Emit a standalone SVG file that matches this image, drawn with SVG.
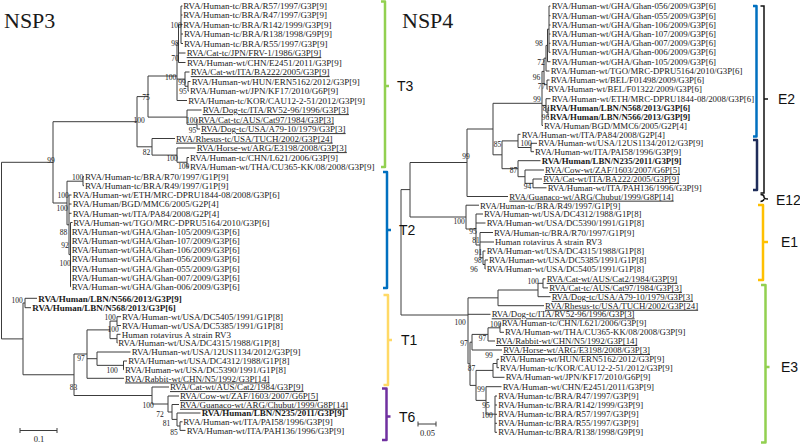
<svg xmlns="http://www.w3.org/2000/svg" width="800" height="444" viewBox="0 0 800 444">
<style>
text{font-family:"Liberation Serif","Times New Roman",serif;fill:#1a1a1a}
.l{font-size:9px}
.r{font-size:8.8px}
.b{font-weight:bold}
.u{text-decoration:underline}
.bs{font-size:7.5px;text-anchor:middle}
.tree{stroke:#3c3c3c;stroke-width:1;fill:none}
.title{font-size:22px}
.cl{font-family:"Liberation Sans","Open Sans",sans-serif;font-size:14px;fill:#111}
.br{fill:none;stroke-width:2.5;stroke-linejoin:round}
</style>
<rect width="800" height="444" fill="#fff"/>
<text class="title" x="4" y="28">NSP3</text>
<text class="title" x="402" y="28">NSP4</text>

<g id="connectors">
<path class="tree" d="M1.5 162.3V338.9M1.5 162.3H53M1.5 338.9H23
M53 121.7V203M53 121.7H137M53 203H67
M137 96.6V146.8M137 96.6H148M137 146.8H152
M148 76V117.1M148 76H177M148 117.1H187
M177 43.6V100.5M177 43.6H178.5M177 79.1H185M177 100.5H187
M178.5 24.75V62.5M178.5 24.75H181M178.5 53H185.5M178.5 62.5H185.5
M181 6V43.5M181 6H182.5M181 15H182.5M181 24.5H182.5M181 34H183M181 43.5H183
M185 72V86.25M185 72H189.5M185 86.25H188
M188 81.5V91M188 81.5H190.5M188 91H189
M187 110V124.25M187 110H201.5M187 124.25H197
M197 119.5V129M197 119.5H197.5M197 129H200
M152 138.5V155.1M152 138.5H175M152 155.1H177
M177 148V162.25M177 148H195.5M177 162.25H187
M187 157.5V167M187 157.5H189M187 167H189
M67 181.2V224.8M67 181.2H83M67 224.8H69
M83 176.7V185.7M83 176.7H84M83 185.7H84
M69 195V254.6M69 195H71.5M69 204H71.5M69 213.3H71.5M69 254.6H70.5
M70.5 222.5V286.7M70.5 222.5H72.5M70.5 231.7H71M70.5 241H71M70.5 250H71M70.5 259H71M70.5 268.3H71M70.5 277.3H71M70.5 286.7H71
M23 303V374.75M23 303H25M23 374.75H74
M25 298.3V307.7M25 298.3H37M25 307.7H31
M74 354V395.5M74 354H87M74 395.5H152
M87 329.9V378.3M87 329.9H110M87 358.7H97M87 378.3H124
M110 321.1V338.65M110 321.1H117M110 338.65H117
M117 316.7V325.5M117 316.7H121M117 325.5H121
M117 334.3V343M117 334.3H120.5M117 343H117.5
M97 352V365.35M97 352H130.5M97 365.35H123.5
M123.5 361V369.7M123.5 361H127M123.5 369.7H124
M152 387V404M152 387H169M152 404H168
M168 396V412M168 396H179M168 412H172
M172 404.5V419.4M172 404.5H179M172 419.4H177
M177 413V426M177 413H200.5M177 426H180
M180 421.8V430.4M180 421.8H182.5M180 430.4H185.5"/>
<path class="tree" d="M20 430.5H57M20 428V433M57 428V433"/>
<path class="tree" d="M401 189.6V315M401 189.6H410M401 315H468
M410 162.5V217M410 162.5H467M410 217H466
M467 129V196.5M467 129H493M467 196.5H508
M493 103.3V154.8M493 103.3H542M493 154.8H502
M542 71.4V125.5M542 71.4H544M542 105.45H546M542 125.5H543
M544 58.2V84.65M544 58.2H546M544 84.65H547
M546 45.4V71M546 45.4H547.5M546 71H549.5
M547.5 29.15V61.7M547.5 29.15H549M547.5 61.7H550.5
M549 6V52.3M549 6H550.5M549 15.7H550.5M549 25H550.5M549 34H550.5M549 43.3H550.5M549 52.3H550.5
M547 80V89.3M547 80H549.5M547 89.3H547.5
M546 98.7V112.2M546 98.7H550.5M546 112.2H548
M548 107.7V116.5M548 107.7H549M548 116.5H549
M502 140.9V168.7M502 140.9H518M502 168.7H518
M518 134.3V147.5M518 134.3H520.5M518 147.5H531
M531 143.3V151.7M531 143.3H537M531 151.7H534
M518 160.7V176.7M518 160.7H540.5M518 176.7H525
M525 170V183.35M525 170H544M525 183.35H533
M533 179V187.8M533 179H542M533 187.8H546.5
M466 205.2V229M466 205.2H479M466 229H476
M476 214V245M476 214H483M476 223H485.5M476 245H480
M480 232.5V257.75M480 232.5H493M480 242H494M480 257.75H483
M483 251V264.5M483 251H485.5M483 264.5H485
M485 260V269M485 260H488M485 269H485.5
M468 297.85V363.8M468 297.85H498M468 314.3H490.5M468 363.8H470
M498 290V305.7M498 290H538M498 305.7H544
M538 283.3V296.7M538 283.3H543M538 296.7H550.5
M543 278.8V287.9M543 278.8H545.5M543 287.9H548
M470 342.2V385.4M470 342.2H472M470 385.4H476
M472 334.4V350M472 334.4H488M472 350H502
M488 327.8V341M488 327.8H500M488 341H495
M500 323.3V332.3M500 323.3H500.5M500 332.3H504
M476 370.4V400.4M476 370.4H493M476 400.4H486
M493 363.5V377.3M493 363.5H497M493 377.3H504.5
M497 359.3V367.7M497 359.3H499M497 367.7H499
M486 386.7V414.15M486 386.7H501.5M486 414.15H495
M495 396V432.3M495 396H497M495 405H497M495 414.3H497M495 423.3H497M495 432.3H497"/>
<path class="tree" d="M418 424H436M418 421.5V426.5M436 421.5V426.5"/>
</g>

<g id="nsp3-leaves" class="l">
<text x="183.3" y="9.2">RVA/Human-tc/BRA/R57/1997/G3P[9]</text>
<text x="183.3" y="18.2">RVA/Human-tc/BRA/R47/1997/G3P[9]</text>
<text x="183.3" y="27.7">RVA/Human-tc/BRA/R142/1999/G3P[9]</text>
<text x="184" y="37.2">RVA/Human-tc/BRA/R138/1998/G9P[9]</text>
<text x="184" y="46.7">RVA/Human-tc/BRA/R55/1997/G3P[9]</text>
<text class="u" x="186.7" y="56.2">RVA/Cat-tc/JPN/FRV-1/1986/G3P[9]</text>
<text x="187" y="65.7">RVA/Human-wt/CHN/E2451/2011/G3P[9]</text>
<text class="u" x="190.7" y="75.2">RVA/Cat-wt/ITA/BA222/2005/G3P[9]</text>
<text x="191.7" y="84.7">RVA/Human-wt/HUN/ERN5162/2012/G3P[9]</text>
<text x="190" y="94.2">RVA/Human-wt/JPN/KF17/2010/G6P[9]</text>
<text x="188.3" y="103.7">RVA/Human-tc/KOR/CAU12-2-51/2012/G3P[9]</text>
<text class="u" x="202.7" y="113.2">RVA/Dog-tc/ITA/RV52-96/1996/G3P[3]</text>
<text class="u" x="198.3" y="122.7">RVA/Cat-tc/AUS/Cat97/1984/G3P[3]</text>
<text class="u" x="201" y="132.2">RVA/Dog-tc/USA/A79-10/1979/G3P[3]</text>
<text class="u" x="176" y="141.7">RVA/Rhesus-tc/USA/TUCH/2002/G3P[24]</text>
<text class="u" x="196.7" y="151.2">RVA/Horse-wt/ARG/E3198/2008/G3P[3]</text>
<text x="190" y="160.7">RVA/Human-tc/CHN/L621/2006/G3P[9]</text>
<text x="190" y="170.2">RVA/Human-wt/THA/CU365-KK/08/2008/G3P[9]</text>
<text x="85" y="179.9">RVA/Human-tc/BRA/R70/1997/G1P[9]</text>
<text x="85" y="188.9">RVA/Human-tc/BRA/R49/1997/G1P[9]</text>
<text x="72.7" y="198.2">RVA/Human-wt/ETH/MRC-DPRU1844-08/2008/G3P[6]</text>
<text x="72.7" y="207.2">RVA/Human/BGD/MMC6/2005/G2P[4]</text>
<text x="72.7" y="216.5">RVA/Human-wt/ITA/PA84/2008/G2P[4]</text>
<text x="73.3" y="225.7">RVA/Human-wt/TGO/MRC-DPRU5164/2010/G3P[6]</text>
<text x="71.7" y="234.9">RVA/Human-wt/GHA/Ghan-105/2009/G3P[6]</text>
<text x="71.7" y="244.2">RVA/Human-wt/GHA/Ghan-107/2009/G3P[6]</text>
<text x="71.7" y="253.2">RVA/Human-wt/GHA/Ghan-106/2009/G3P[6]</text>
<text x="71.7" y="262.2">RVA/Human-wt/GHA/Ghan-056/2009/G3P[6]</text>
<text x="71.7" y="271.5">RVA/Human-wt/GHA/Ghan-055/2009/G3P[6]</text>
<text x="71.7" y="280.5">RVA/Human-wt/GHA/Ghan-007/2009/G3P[6]</text>
<text x="71.7" y="289.9">RVA/Human-wt/GHA/Ghan-006/2009/G3P[6]</text>
<text class="b" x="38.3" y="301.5">RVA/Human/LBN/N566/2013/G3P[9]</text>
<text class="b" x="32.3" y="310.9">RVA/Human/LBN/N568/2013/G3P[6]</text>
<text x="122" y="319.9">RVA/Human-wt/USA/DC5405/1991/G1P[8]</text>
<text x="122" y="328.7">RVA/Human-wt/USA/DC5385/1991/G1P[8]</text>
<text x="121.7" y="337.5">Human rotavirus A strain RV3</text>
<text x="118.3" y="346.2">RVA/Human-wt/USA/DC4315/1988/G1P[8]</text>
<text x="131.7" y="355.2">RVA/Human-wt/USA/12US1134/2012/G3P[9]</text>
<text x="128.3" y="364.2">RVA/Human-wt/USA/DC4312/1988/G1P[8]</text>
<text x="125" y="372.9">RVA/Human-wt/USA/DC5390/1991/G1P[8]</text>
<text class="u" x="125" y="381.5">RVA/Rabbit-wt/CHN/N5/1992/G3P[14]</text>
<text class="u" x="170" y="390.2">RVA/Cat-wt/AUS/Cat2/1984/G3P[9]</text>
<text class="u" x="180" y="399.2">RVA/Cow-wt/ZAF/1603/2007/G6P[5]</text>
<text class="u" x="180" y="407.8">RVA/Guanaco-wt/ARG/Chubut/1999/G8P[14]</text>
<text class="b" x="201.7" y="416.4">RVA/Human/LBN/N235/2011/G3P[9]</text>
<text x="183.3" y="425">RVA/Human-wt/ITA/PAI58/1996/G3P[9]</text>
<text x="186.7" y="433.6">RVA/Human-wt/ITA/PAH136/1996/G3P[9]</text>
</g>

<g id="nsp3-bootstrap" class="bs">
<text x="176" y="27.6">100</text>
<text x="175" y="45.6">98</text>
<text x="175" y="60.6">70</text>
<text x="170.5" y="80">100</text>
<text x="182" y="85">99</text>
<text x="183" y="93.6">95</text>
<text x="146" y="99.6">75</text>
<text x="139" y="122.6">100</text>
<text x="191.5" y="122.6">100</text>
<text x="192.5" y="132.6">95</text>
<text x="146.5" y="154.6">82</text>
<text x="172" y="160.6">100</text>
<text x="183.5" y="168.8">100</text>
<text x="51" y="162.6">99</text>
<text x="77.5" y="179.6">100</text>
<text x="63" y="197.6">100</text>
<text x="62" y="210.6">100</text>
<text x="63.5" y="234.6">88</text>
<text x="65" y="247.6">92</text>
<text x="65" y="265.6">100</text>
<text x="17" y="302.6">100</text>
<text x="110" y="319.6">100</text>
<text x="113" y="331.6">100</text>
<text x="112" y="372.6">100</text>
<text x="81" y="360.6">97</text>
<text x="73.5" y="389.6">83</text>
<text x="148" y="407.6">100</text>
<text x="160" y="416.6">72</text>
<text x="166.5" y="425.6">81</text>
<text x="174" y="434.8">85</text>
<text x="39" y="442" style="font-size:8.5px">0.1</text>
</g>

<g id="nsp4-leaves" class="r">
<text x="551.7" y="9.1">RVA/Human-wt/GHA/Ghan-056/2009/G3P[6]</text>
<text x="551.7" y="18.8">RVA/Human-wt/GHA/Ghan-055/2009/G3P[6]</text>
<text x="551.7" y="28.1">RVA/Human-wt/GHA/Ghan-106/2009/G3P[6]</text>
<text x="551.7" y="37.1">RVA/Human-wt/GHA/Ghan-107/2009/G3P[6]</text>
<text x="551.7" y="46.4">RVA/Human-wt/GHA/Ghan-007/2009/G3P[6]</text>
<text x="551.7" y="55.4">RVA/Human-wt/GHA/Ghan-006/2009/G3P[6]</text>
<text x="551.7" y="64.8">RVA/Human-wt/GHA/Ghan-105/2009/G3P[6]</text>
<text x="550.7" y="74.1">RVA/Human-wt/TGO/MRC-DPRU5164/2010/G3P[6]</text>
<text x="550.7" y="83.1">RVA/Human-wt/BEL/F01498/2009/G3P[6]</text>
<text x="548.3" y="92.4">RVA/Human-wt/BEL/F01322/2009/G3P[6]</text>
<text x="551.7" y="101.8">RVA/Human-wt/ETH/MRC-DPRU1844-08/2008/G3P[6]</text>
<text class="b" x="550" y="110.8">RVA/Human/LBN/N568/2013/G3P[6]</text>
<text class="b" x="550" y="119.6">RVA/Human/LBN/N566/2013/G3P[9]</text>
<text x="544" y="128.7">RVA/Human/BGD/MMC6/2005/G2P[4]</text>
<text x="521.7" y="137.6">RVA/Human-wt/ITA/PA84/2008/G2P[4]</text>
<text x="538.3" y="146.4">RVA/Human-wt/USA/12US1134/2012/G3P[9]</text>
<text x="535" y="155.1">RVA/Human-wt/ITA/PAI58/1996/G3P[9]</text>
<text class="b" x="541.7" y="163.9">RVA/Human/LBN/N235/2011/G3P[9]</text>
<text class="u" x="545" y="173.1">RVA/Cow-wt/ZAF/1603/2007/G6P[5]</text>
<text class="u" x="543.3" y="182">RVA/Cat-wt/ITA/BA222/2005/G3P[9]</text>
<text x="547.7" y="190.9">RVA/Human-wt/ITA/PAH136/1996/G3P[9]</text>
<text class="u" x="509.3" y="199.7">RVA/Guanaco-wt/ARG/Chubut/1999/G8P[14]</text>
<text x="480" y="208.5">RVA/Human-tc/BRA/R49/1997/G1P[9]</text>
<text x="484" y="217.3">RVA/Human-wt/USA/DC4312/1988/G1P[8]</text>
<text x="486.7" y="226.2">RVA/Human-wt/USA/DC5390/1991/G1P[8]</text>
<text x="494" y="235.6">RVA/Human-tc/BRA/R70/1997/G1P[9]</text>
<text x="495" y="245.1">Human rotavirus A strain RV3</text>
<text x="486.7" y="254.1">RVA/Human-wt/USA/DC4315/1988/G1P[8]</text>
<text x="489" y="263.1">RVA/Human-wt/USA/DC5385/1991/G1P[8]</text>
<text x="486.7" y="272.1">RVA/Human-wt/USA/DC5405/1991/G1P[8]</text>
<text class="u" x="546.7" y="281.9">RVA/Cat-wt/AUS/Cat2/1984/G3P[9]</text>
<text class="u" x="549.3" y="291">RVA/Cat-tc/AUS/Cat97/1984/G3P[3]</text>
<text class="u" x="551.7" y="299.9">RVA/Dog-tc/USA/A79-10/1979/G3P[3]</text>
<text class="u" x="545" y="308.8">RVA/Rhesus-tc/USA/TUCH/2002/G3P[24]</text>
<text class="u" x="491.7" y="317.4">RVA/Dog-tc/ITA/RV52-96/1996/G3P[3]</text>
<text x="501.7" y="326.4">RVA/Human-tc/CHN/L621/2006/G3P[9]</text>
<text x="505" y="335.4">RVA/Human-wt/THA/CU365-KK/08/2008/G3P[9]</text>
<text class="u" x="496" y="344.1">RVA/Rabbit-wt/CHN/N5/1992/G3P[14]</text>
<text class="u" x="503.3" y="353.1">RVA/Horse-wt/ARG/E3198/2008/G3P[3]</text>
<text x="500" y="362.4">RVA/Human-wt/HUN/ERN5162/2012/G3P[9]</text>
<text x="500" y="371.2">RVA/Human-tc/KOR/CAU12-2-51/2012/G3P[9]</text>
<text x="505.7" y="380.4">RVA/Human-wt/JPN/KF17/2010/G6P[9]</text>
<text x="502.7" y="389.8">RVA/Human-wt/CHN/E2451/2011/G3P[9]</text>
<text x="498.3" y="399.1">RVA/Human-tc/BRA/R47/1997/G3P[9]</text>
<text x="498.3" y="408.1">RVA/Human-tc/BRA/R142/1999/G3P[9]</text>
<text x="498.3" y="417.4">RVA/Human-tc/BRA/R57/1997/G3P[9]</text>
<text x="498.3" y="426.4">RVA/Human-tc/BRA/R55/1997/G3P[9]</text>
<text x="498.3" y="435.4">RVA/Human-tc/BRA/R138/1998/G9P[9]</text>
</g>

<g id="nsp4-bootstrap" class="bs">
<text x="539" y="45.6">98</text>
<text x="541" y="64.6">72</text>
<text x="536.5" y="79.6">96</text>
<text x="541.5" y="88.8">77</text>
<text x="537" y="101.8">99</text>
<text x="546.5" y="110.6">81</text>
<text x="545.5" y="119.6">96</text>
<text x="526" y="146">100</text>
<text x="497.5" y="146.6">85</text>
<text x="513.5" y="172.6">87</text>
<text x="527.5" y="188.6">94</text>
<text x="466" y="159.3">99</text>
<text x="459" y="224">100</text>
<text x="473" y="233.6">95</text>
<text x="476" y="242.6">81</text>
<text x="478.5" y="254.6">91</text>
<text x="478" y="262.6">98</text>
<text x="474" y="271.6">96</text>
<text x="533" y="283.6">100</text>
<text x="495.5" y="326.6">100</text>
<text x="460" y="324.6">100</text>
<text x="464" y="345.6">97</text>
<text x="482.5" y="340.6">97</text>
<text x="471.5" y="370.6">87</text>
<text x="489" y="357.6">99</text>
<text x="481" y="391.6">99</text>
<text x="486" y="408.3">95</text>
<text x="487" y="417.6">100</text>
<text x="427.5" y="436" style="font-size:8.5px">0.05</text>
</g>

<g id="clade-T3"><path class="br" stroke="#92d050" d="M381 1.5H385V167H381M385 86H389"/><text class="cl" x="397" y="91">T3</text></g>
<g id="clade-T2"><path class="br" stroke="#0070c0" d="M383 172H387V288H383M387 230H391"/><text class="cl" x="399" y="235">T2</text></g>
<g id="clade-T1"><path class="br" stroke="#ffd966" d="M383.5 295H388V385H383.5M388 340H392"/><text class="cl" x="401" y="345">T1</text></g>
<g id="clade-T6"><path class="br" stroke="#7030a0" d="M382 388.5H386.5V440H382M386.5 416.5H390.5"/><text class="cl" x="399" y="422">T6</text></g>

<g id="clade-E2"><path class="br" stroke="#0070c0" d="M753 6H756.5V136.5H753"/><path class="br" stroke="#1f2d5a" d="M753 140H757V190H753"/><path fill="none" stroke="#111" stroke-width="1.5" d="M760.5 6H764V193H760.5M764 99H768"/><text class="cl" x="778" y="104">E2</text></g>
<g id="clade-E12"><path fill="none" stroke="#111" stroke-width="1.5" d="M760.5 194.5Q764 194.5 764 197Q764 199 768 199M764 199Q764 201 760.5 201.5"/><text class="cl" x="776" y="205">E12</text></g>
<g id="clade-E1"><path class="br" stroke="#ffc000" d="M758 205H763V280H758M763 242H768"/><text class="cl" x="781" y="247">E1</text></g>
<g id="clade-E3"><path class="br" stroke="#92d050" d="M761 285H765.5V442.5H761M765.5 367H769.5"/><text class="cl" x="781" y="372">E3</text></g>
</svg>
